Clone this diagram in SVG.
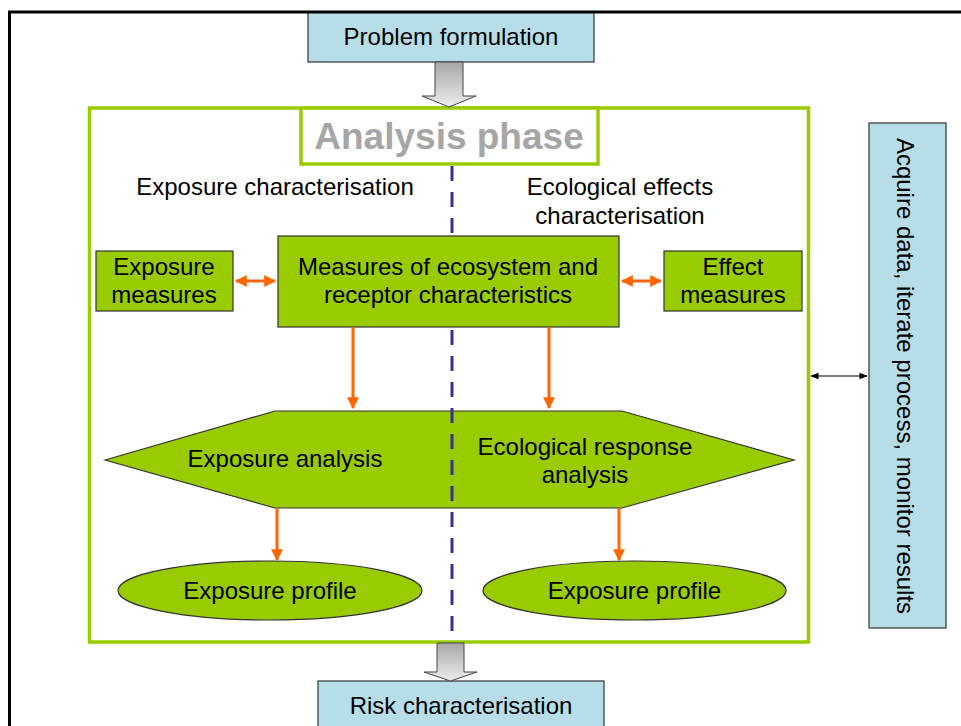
<svg xmlns="http://www.w3.org/2000/svg" width="961" height="726" viewBox="0 0 961 726">
<defs>
<style>
.t{font-family:"Liberation Sans",Arial,sans-serif;font-size:24px;fill:#000;text-anchor:middle}
.g{fill:#99CC00;stroke:#333;stroke-width:1.2}
.b{fill:#B7DEE8;stroke:#333;stroke-width:1.2}
.o{stroke:#FF6600;stroke-width:3;fill:none}
.ga{fill:url(#gr);stroke:#444;stroke-width:1}
.d{stroke:#333399;stroke-width:3;stroke-dasharray:15,11}
</style>
<linearGradient id="gr" x1="0" y1="0" x2="0" y2="1">
<stop offset="0" stop-color="#A6A6A6"/>
<stop offset="1" stop-color="#EDEDED"/>
</linearGradient>
<marker id="oa" viewBox="0 0 10 10" refX="9" refY="5" markerWidth="4" markerHeight="4" orient="auto-start-reverse" markerUnits="strokeWidth">
<path d="M0,0 L10,5 L0,10 z" fill="#FF6600"/>
</marker>
<marker id="ba" viewBox="0 0 10 10" refX="9" refY="5" markerWidth="7" markerHeight="7" orient="auto-start-reverse" markerUnits="strokeWidth">
<path d="M0,1 L10,5 L0,9 z" fill="#000"/>
</marker>
</defs>
<rect width="961" height="726" fill="#fff"/>

<g id="analysis-frame">
<rect x="89.5" y="108" width="719" height="534" fill="none" stroke="#99CC00" stroke-width="3.5"/>
</g>

<g id="problem-formulation">
<rect class="b" x="308" y="12" width="286" height="50"/>
<text class="t" x="451" y="45">Problem formulation</text>
</g>

<rect x="9.5" y="12" width="1000" height="800" fill="none" stroke="#000" stroke-width="3"/>

<g id="analysis-phase">
<rect x="301" y="108" width="297" height="56" fill="#fff" stroke="#99CC00" stroke-width="3.5"/>
<text x="449" y="149" font-family="Liberation Sans,Arial,sans-serif" font-size="37" font-weight="bold" fill="#A6A6A6" text-anchor="middle">Analysis phase</text>
</g>

<g id="labels">
<text class="t" x="275" y="195">Exposure characterisation</text>
<text class="t" x="620" y="195">Ecological effects</text>
<text class="t" x="620" y="224">characterisation</text>
</g>

<g id="exposure-measures">
<rect class="g" x="96" y="251" width="137" height="60"/>
<text class="t" x="164" y="275">Exposure</text>
<text class="t" x="164" y="303">measures</text>
</g>

<g id="measures-ecosystem">
<rect class="g" x="278" y="236" width="341" height="91"/>
<text class="t" x="448" y="275">Measures of ecosystem and</text>
<text class="t" x="448" y="303">receptor characteristics</text>
</g>

<g id="effect-measures">
<rect class="g" x="664" y="251" width="138" height="60"/>
<text class="t" x="733" y="275">Effect</text>
<text class="t" x="733" y="303">measures</text>
</g>

<g id="analysis-hexagon">
<polygon class="g" points="105,460 275,411 622,411 794,460 622,508 275,508"/>
<text class="t" x="285" y="467">Exposure analysis</text>
<text class="t" x="585" y="455">Ecological response</text>
<text class="t" x="585" y="483">analysis</text>
</g>

<g id="exposure-profile-left">
<ellipse class="g" cx="270" cy="590.5" rx="152" ry="29.5"/>
<text class="t" x="270" y="599">Exposure profile</text>
</g>

<g id="exposure-profile-right">
<ellipse class="g" cx="634.5" cy="590.5" rx="151.5" ry="29.5"/>
<text class="t" x="634.5" y="599">Exposure profile</text>
</g>

<g id="acquire-data">
<rect class="b" x="869" y="123" width="77" height="505"/>
<text class="t" transform="translate(907,376) rotate(90)" x="0" y="10">Acquire data, iterate process, monitor results</text>
</g>

<g id="risk-characterisation">
<rect class="b" x="318" y="681" width="286" height="60"/>
<text class="t" x="461" y="714">Risk characterisation</text>
</g>

<g id="connectors">
<line class="d" x1="452" y1="166" x2="452" y2="236"/>
<line class="d" x1="452" y1="330" x2="452" y2="634"/>
<path class="ga" d="M435,62 H463 V96 H476 L449,107 L422,96 H435 Z"/>
<path class="ga" d="M437,643 H464 V672 H477 L450.5,681 L424,672 H437 Z"/>
<line class="o" x1="236" y1="281" x2="275" y2="281" marker-start="url(#oa)" marker-end="url(#oa)"/>
<line class="o" x1="622" y1="281" x2="661" y2="281" marker-start="url(#oa)" marker-end="url(#oa)"/>
<line class="o" x1="353" y1="327" x2="353" y2="408" marker-end="url(#oa)"/>
<line class="o" x1="549" y1="327" x2="549" y2="408" marker-end="url(#oa)"/>
<line class="o" x1="277" y1="508" x2="277" y2="560" marker-end="url(#oa)"/>
<line class="o" x1="619" y1="508" x2="619" y2="560" marker-end="url(#oa)"/>
<line x1="811" y1="376" x2="867" y2="376" stroke="#000" stroke-width="1.2" marker-start="url(#ba)" marker-end="url(#ba)"/>
</g>
</svg>
